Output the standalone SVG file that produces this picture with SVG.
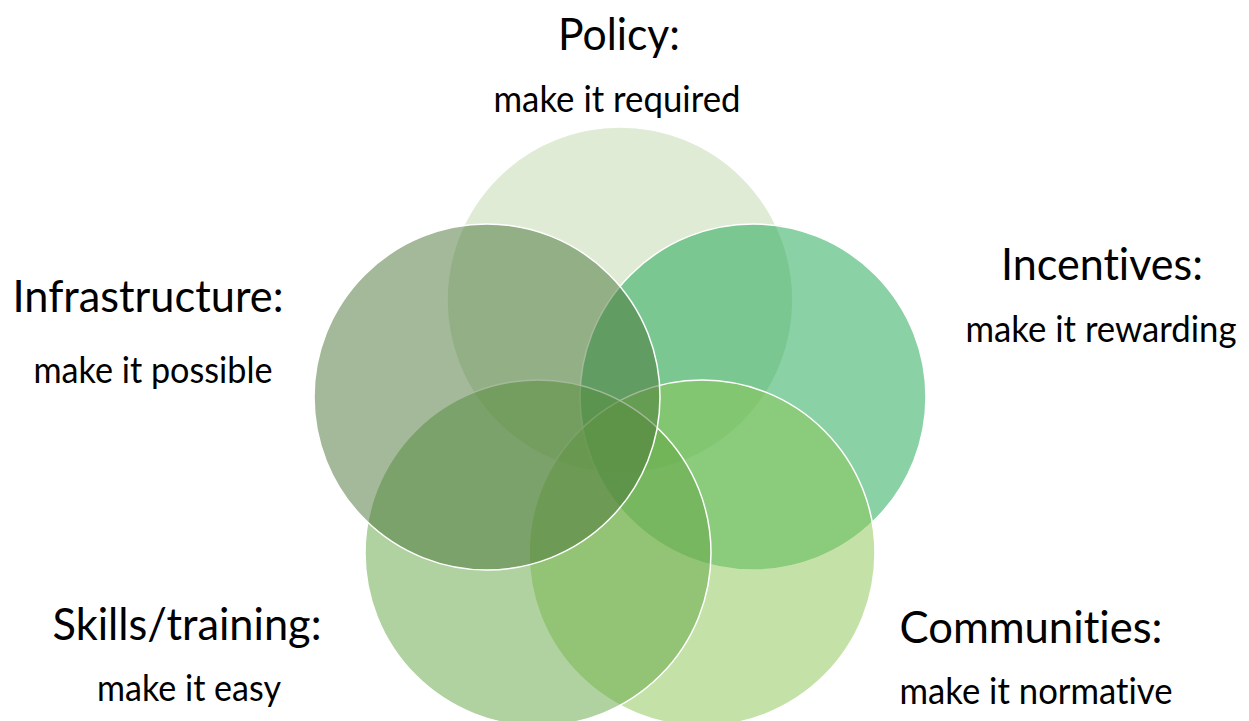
<svg xmlns="http://www.w3.org/2000/svg" width="1249" height="721" viewBox="0 0 1249 721">
<style>
.c{stroke:#ffffff;stroke-width:1.5;fill-opacity:0.5}
.h{font-family:Lato,"Open Sans","Liberation Sans",sans-serif;font-size:45px;fill:#000;text-anchor:middle;font-variant-ligatures:none;font-feature-settings:"liga" 0}
.s{font-family:Lato,"Open Sans","Liberation Sans",sans-serif;font-size:36px;fill:#000;text-anchor:middle;font-variant-ligatures:none;font-feature-settings:"liga" 0}
</style>
<rect width="1249" height="721" fill="#ffffff"/>
<g id="policy"><circle class="c" cx="620" cy="300" r="173" fill="#bfd7a9"/></g>
<g id="incentives"><circle class="c" cx="753" cy="397" r="173" fill="#17a34d"/></g>
<g id="communities"><circle class="c" cx="702" cy="553" r="173" fill="#89c551"/></g>
<g id="skills"><circle class="c" cx="538" cy="553" r="173" fill="#61a341"/></g>
<g id="infrastructure"><circle class="c" cx="487" cy="397" r="173" fill="#477335"/></g>
<g id="labels">
<g id="policy-label"><text class="h" x="619" y="50" textLength="122" lengthAdjust="spacingAndGlyphs">Policy:</text><text class="s" x="617" y="112" textLength="247" lengthAdjust="spacingAndGlyphs">make it required</text></g>
<g id="incentives-label"><text class="h" x="1102" y="280" textLength="202" lengthAdjust="spacingAndGlyphs">Incentives:</text><text class="s" x="1101" y="342" textLength="271" lengthAdjust="spacingAndGlyphs">make it rewarding</text></g>
<g id="infrastructure-label"><text class="h" x="148" y="312" textLength="271" lengthAdjust="spacingAndGlyphs">Infrastructure:</text><text class="s" x="153" y="383" textLength="239" lengthAdjust="spacingAndGlyphs">make it possible</text></g>
<g id="skills-label"><text class="h" x="187" y="640" textLength="269" lengthAdjust="spacingAndGlyphs">Skills/training:</text><text class="s" x="189" y="701" textLength="184" lengthAdjust="spacingAndGlyphs">make it easy</text></g>
<g id="communities-label"><text class="h" x="1031" y="643" textLength="263" lengthAdjust="spacingAndGlyphs">Communities:</text><text class="s" x="1036" y="704" textLength="273" lengthAdjust="spacingAndGlyphs">make it normative</text></g>
</g>
</svg>
